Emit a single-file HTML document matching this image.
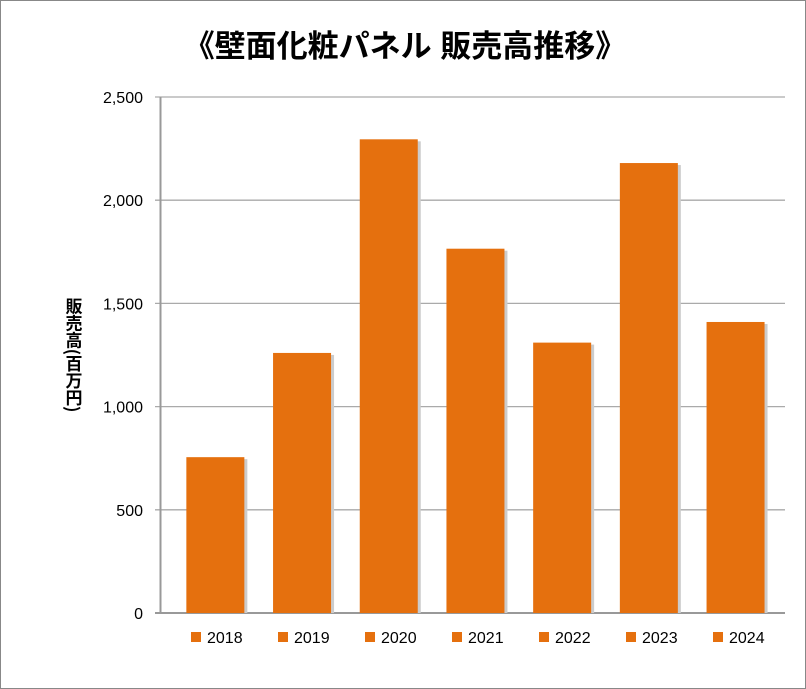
<!DOCTYPE html>
<html><head><meta charset="utf-8"><style>
body{margin:0;background:#fff}
svg{display:block;font-family:"Liberation Sans","Noto Sans CJK JP",sans-serif}
</style></head><body>
<svg id="c" width="806" height="689" xmlns="http://www.w3.org/2000/svg">
<rect x="0.5" y="0.5" width="805" height="688" fill="#fff" stroke="#888"/>
<text x="405" y="57" text-anchor="middle" font-size="31" font-weight="bold" font-family="'Liberation Sans','Noto Sans CJK JP',sans-serif">《壁面化粧パネル 販売高推移》</text>
<text x="74" y="355" font-size="17" font-weight="bold" text-anchor="middle" style="writing-mode:vertical-rl" font-family="'Noto Sans CJK JP',sans-serif">販売高(百万円)</text>
<g id="grid"></g><g id="bars"></g><g id="legend"></g>
</svg>
<script>
const categories=["2018","2019","2020","2021","2022","2023","2024"];
const sales=[755,1260,2295,1765,1310,2180,1410];
const yTicks=[0,500,1000,1500,2000,2500];
const yTickLabels=["0","500","1,000","1,500","2,000","2,500"];
const NS="http://www.w3.org/2000/svg";
const x0=172,step=86.7,bw=58,yBase=613,yTop=97,yMax=2500;
const y=v=>yBase-(v/yMax)*(yBase-yTop);
const cx=i=>x0+step*(i+0.5);
function mk(t,a,p){const e=document.createElementNS(NS,t);for(const k in a)e.setAttribute(k,a[k]);p.appendChild(e);return e;}
const g=document.getElementById('grid');
yTicks.forEach((v,i)=>{
 const l=mk('line',{x1:155,x2:785,y1:y(v),y2:y(v),stroke:i==0?'#999':'#aaa','stroke-width':i==0?2:1.3},g);
 
 
 const t=mk('text',{x:143,y:y(v)+6,'text-anchor':'end','font-size':16},g);
 t.textContent=yTickLabels[i];
 
 
});
const ax=mk('line',{x1:160.5,x2:160.5,y1:yTop,y2:yBase+1,stroke:'#999','stroke-width':2},g);


const b=document.getElementById('bars'),lg=document.getElementById('legend');
sales.forEach((v,i)=>{
 const sh=mk('rect',{x:cx(i)-bw/2+3,y:y(v)+2,width:bw,height:yBase-y(v)-2,fill:'#ccc'},b);
 
 
 const r=mk('rect',{x:cx(i)-bw/2,y:y(v),width:bw,height:yBase-y(v),fill:'#E5700E'},b);
 
 
 const lx=191+i*87;
 const s=mk('rect',{x:lx,y:632,width:10,height:10,fill:'#E5700E'},lg);
 
 
 const t=mk('text',{x:lx+16,y:643,'font-size':16},lg);
 t.textContent=categories[i];
 
 
});
</script>
</body></html>
